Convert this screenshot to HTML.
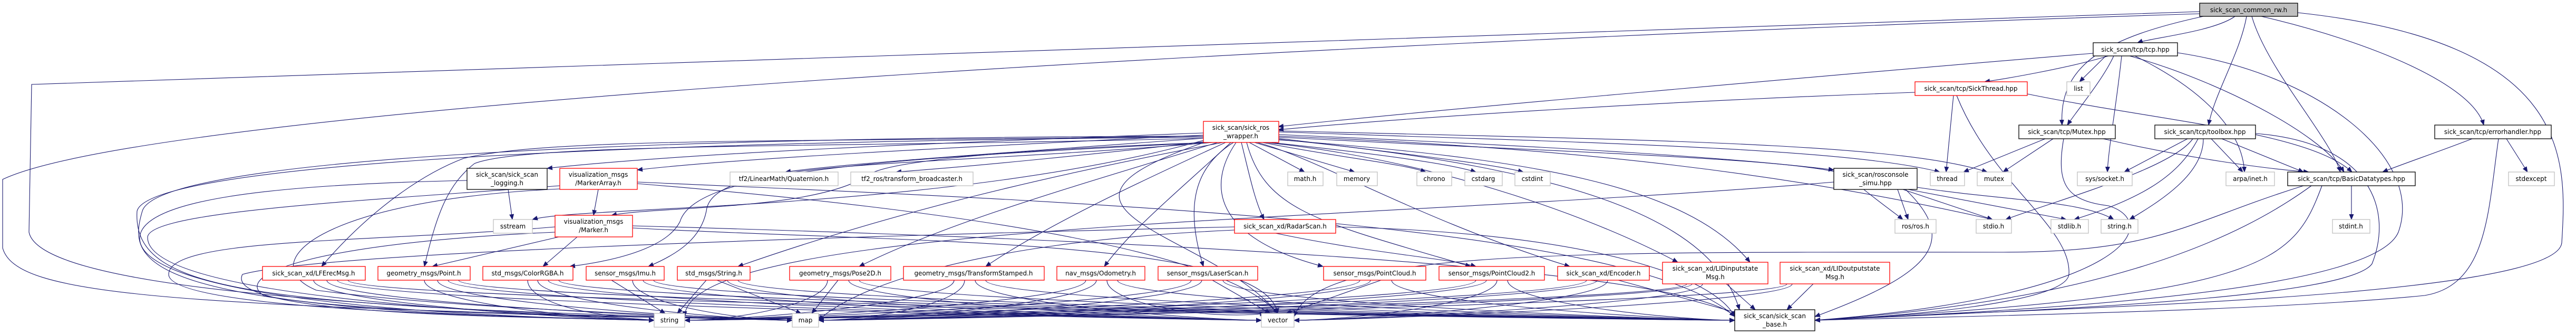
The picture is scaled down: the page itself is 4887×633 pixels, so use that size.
<!DOCTYPE html>
<html><head><meta charset="utf-8"><style>
html,body{margin:0;padding:0;background:#fff}
svg{display:block}
text{font-family:"DejaVu Sans","Liberation Sans",sans-serif;font-size:12px;fill:#000}
.e{fill:none;stroke:#191970;stroke-width:1.1}
.k{fill:#fff;stroke:#000;stroke-width:1.3}
.r{fill:#fff;stroke:#ff0000;stroke-width:1.3}
.g{fill:#fff;stroke:#bfbfbf;stroke-width:1.3}
</style></head><body>
<svg width="4887" height="633" viewBox="0 0 4887 633" xmlns="http://www.w3.org/2000/svg">
<defs><marker id="a" markerWidth="11" markerHeight="9" refX="10" refY="4.5" orient="auto" markerUnits="userSpaceOnUse"><path d="M0,0L11,4.5L0,9z" fill="#191970"/></marker></defs>
<g class="e" marker-end="url(#a)">
<!-- main -->
<path d="M4240,31 C4200,60 4080,72 4055,81"/>
<path d="M4180,31 C4000,70 3905,120 3912,237"/>
<path d="M4262,31 C4250,100 4200,180 4190,237"/>
<path d="M4272,31 C4300,130 4420,260 4440,326"/>
<path d="M4290,31 C4500,80 4690,160 4712,237"/>
<path d="M4359,24 C4880,80 4870,300 4860,460 C4850,570 3800,585 3443,607"/>
<path d="M4173,22 C3500,40 2300,80 60,160 L55,440 C80,570 1000,585 1241,607"/>
<path d="M4173,26 C2500,80 300,200 5,340 L5,470 C30,560 300,580 1503,607"/>
<!-- tcp -->
<path d="M3971,101 C3500,140 2700,210 2425,240"/>
<path d="M4000,106 C3920,130 3800,150 3765,155"/>
<path d="M3995,106 L3945,155"/>
<path d="M4010,106 C3990,150 3940,210 3922,237"/>
<path d="M4025,106 C4015,200 4000,280 3998,326"/>
<path d="M4040,106 C4200,150 4400,250 4447,326"/>
<path d="M4050,106 C4200,180 4255,260 4258,326"/>
<path d="M4131,100 C4400,140 4600,300 4550,440 C4500,560 3800,590 3443,607"/>
<!-- SickThread -->
<path d="M3633,175 C3200,190 2700,220 2425,246"/>
<path d="M3706,181 L3692,326"/>
<path d="M3712,181 C3780,350 3930,430 3925,520 C3920,575 3600,600 3443,607"/>
<path d="M3846,178 C4100,230 4380,250 4462,326"/>
<!-- Mutex -->
<path d="M3880,263 L3725,326"/>
<path d="M3895,263 L3800,326"/>
<path d="M3990,263 C4150,300 4300,320 4380,326"/>
<path d="M3915,263 C3900,350 3920,380 4000,390 C4100,420 4050,560 3443,607"/>
<!-- toolbox -->
<path d="M4150,263 L4030,326"/>
<path d="M4160,263 C4120,320 3900,380 3805,416"/>
<path d="M4170,263 C4130,340 4050,380 3935,416"/>
<path d="M4180,263 C4180,330 4100,380 4040,416"/>
<path d="M4195,263 L4255,326"/>
<path d="M4215,263 L4370,326"/>
<path d="M4279,253 C4500,270 4540,400 4500,500 C4450,570 3800,590 3443,607"/>
<!-- errorhandler -->
<path d="M4690,263 C4620,290 4560,310 4520,326"/>
<path d="M4755,263 L4795,326"/>
<path d="M4740,263 C4720,400 4720,540 4600,560 C4300,590 3700,600 3443,607"/>
<!-- Basic -->
<path d="M4461,352 L4461,416"/>
<path d="M4385,352 C4250,450 4000,570 3443,607"/>
<path d="M4405,352 C4350,500 4300,560 3443,607"/>
<path d="M4370,352 C4150,420 4100,478 3800,478 C3000,478 2500,470 2455,600"/>
<!-- rosconsole -->
<path d="M3600,359 L3620,416"/>
<path d="M3610,359 L3780,416"/>
<path d="M3620,359 L3920,416"/>
<path d="M3637,355 C3800,380 3950,380 4010,416"/>
<path d="M3615,359 C3720,460 3660,520 3443,600"/>
<path d="M3479,345 C2600,420 1300,420 1299,600"/>
<!-- wrapper -->
<path d="M2283,252 C1800,270 1300,290 1038,319"/>
<path d="M2283,256 C1800,280 1400,300 1209,322"/>
<path d="M2300,270 C2000,280 1700,300 1650,330 C1550,400 1250,390 1160,408"/>
<path d="M2283,262 C1900,290 1600,310 1490,326"/>
<path d="M2290,268 C2100,290 1850,315 1700,326"/>
<path d="M2370,270 L2475,326"/>
<path d="M2380,270 L2570,326"/>
<path d="M2395,270 C2550,300 2660,310 2705,326"/>
<path d="M2410,270 C2600,290 2750,310 2800,326"/>
<path d="M2425,262 C2650,290 2830,310 2890,326"/>
<path d="M2425,250 C3000,270 3500,280 3680,326"/>
<path d="M2425,248 C3100,265 3600,270 3770,326"/>
<path d="M2425,255 C3000,280 3300,300 3479,322"/>
<path d="M2425,260 C3000,290 3400,300 3500,330 C3560,380 3590,400 3610,416"/>
<path d="M2355,270 C2370,330 2380,380 2398,416"/>
<path d="M2283,258 C1500,270 1050,260 880,300 C800,330 700,400 610,505"/>
<path d="M2283,262 C1600,280 1000,270 900,310 C850,350 830,400 805,505"/>
<path d="M2290,270 C1700,300 1320,320 1290,420 C1270,460 1200,490 1081,505"/>
<path d="M2300,270 C1700,320 1350,300 1340,400 C1330,450 1290,480 1230,505"/>
<path d="M2320,270 C2000,330 1700,400 1400,505"/>
<path d="M2310,270 C2050,350 1800,420 1630,505"/>
<path d="M2325,270 C2150,350 1980,430 1870,505"/>
<path d="M2335,270 C2250,350 2150,430 2095,505"/>
<path d="M2340,270 C2260,320 2250,400 2283,505"/>
<path d="M2345,270 C2290,350 2300,450 2510,505"/>
<path d="M2365,270 C2400,400 2500,420 2790,505"/>
<path d="M2385,270 C2500,300 2700,420 2978,505"/>
<path d="M2400,270 C2700,300 3000,400 3183,497"/>
<path d="M2425,265 C2900,300 3200,350 3320,497"/>
<path d="M2290,268 C1900,400 2300,440 2424,594"/>
<path d="M2283,258 C1200,260 300,300 270,400 C240,500 260,590 1241,607"/>
<path d="M2283,260 C1000,270 280,320 260,400 C250,560 500,580 1503,607"/>
<path d="M2425,264 C3000,320 3250,420 3300,587"/>
<path d="M2283,266 C1800,400 1100,390 1010,416"/>
<path d="M2425,258 C3000,280 3400,330 3780,416"/>
<!-- MarkerArray -->
<path d="M1135,359 L1126,408"/>
<path d="M1062,352 C700,380 280,400 280,450 C280,560 900,590 1241,607"/>
<path d="M1062,358 C600,380 480,500 600,550 C900,590 1400,600 1503,607"/>
<path d="M1209,348 C1600,380 2300,450 2424,594"/>
<path d="M1209,345 C2000,380 3100,420 3291,600"/>
<!-- logging -->
<path d="M964,359 L972,416"/>
<path d="M886,342 C500,350 270,380 265,450 C260,560 800,600 1241,607"/>
<!-- Marker -->
<path d="M1060,449 L820,505"/>
<path d="M1095,449 L1030,505"/>
<path d="M1053,430 C700,460 320,450 320,520 C320,590 1000,600 1241,607"/>
<path d="M1053,440 C600,460 440,520 500,560 C700,600 1300,600 1503,607"/>
<path d="M1200,432 C1700,460 2400,450 2424,594"/>
<path d="M1200,428 C2000,450 3200,500 3291,600"/>
<!-- RadarScan -->
<path d="M2420,442 C2600,480 2750,490 2800,505"/>
<path d="M2342,430 C1500,450 600,480 460,520 C420,600 1000,600 1241,607"/>
<path d="M2342,436 C1800,460 1600,560 1553,607"/>
<path d="M2534,430 C3000,440 3250,520 3291,600"/>
<!-- row6 to string/map/vector/base -->
<path d="M595,531 C595,575 1141,607 1241,607"/><path d="M620,531 C620,575 1403,607 1503,607"/><path d="M640,531 C640,575 2293,607 2393,607"/><path d="M660,531 C660,575 3191,607 3291,607"/>
<path d="M805,531 C805,575 1141,607 1241,607"/><path d="M830,531 C830,575 1403,607 1503,607"/><path d="M850,531 C850,575 2293,607 2393,607"/><path d="M870,531 C870,575 3191,607 3291,607"/>
<path d="M1001,531 C1001,575 1141,607 1250,600"/><path d="M1020,531 C1020,575 1403,607 1503,607"/><path d="M1040,531 C1040,575 2293,607 2393,607"/><path d="M1060,531 C1060,575 3191,607 3291,607"/>
<path d="M1160,531 L1262,594"/><path d="M1200,531 C1200,575 1403,607 1503,607"/><path d="M1220,531 C1220,575 2293,607 2393,607"/><path d="M1240,531 C1240,575 3191,607 3291,607"/>
<path d="M1340,531 L1285,594"/><path d="M1360,531 L1520,594"/><path d="M1380,531 C1380,575 2293,607 2393,607"/><path d="M1400,531 C1400,575 3191,607 3291,607"/>
<path d="M1570,531 C1570,575 1399,607 1299,607"/><path d="M1590,531 L1540,594"/><path d="M1610,531 C1610,575 2293,607 2393,607"/><path d="M1630,531 C1630,575 3191,607 3291,607"/>
<path d="M1810,531 C1810,575 1399,607 1299,607"/><path d="M1830,531 C1830,575 1653,607 1553,607"/><path d="M1850,531 C1850,575 2293,607 2393,607"/><path d="M1870,531 C1870,575 3191,607 3291,607"/>
<path d="M2060,531 C2060,575 1399,607 1299,607"/><path d="M2080,531 C2080,575 1653,607 1553,607"/><path d="M2100,531 C2100,575 2293,607 2400,594"/><path d="M2120,531 C2120,575 3191,607 3291,607"/>
<path d="M2260,531 C2260,575 1399,607 1299,607"/><path d="M2280,531 C2280,575 1653,607 1553,607"/><path d="M2300,531 L2410,594"/><path d="M2320,531 C2320,575 3191,607 3291,607"/>
<path d="M2580,531 C2580,575 1399,607 1299,607"/><path d="M2600,531 C2600,575 1653,607 1553,607"/><path d="M2620,531 L2440,594"/><path d="M2640,531 C2640,575 3191,607 3291,607"/>
<path d="M2800,531 C2800,575 1399,607 1299,607"/><path d="M2820,531 C2820,575 1653,607 1553,607"/><path d="M2840,531 C2840,575 2555,607 2455,607"/><path d="M2860,531 C2860,575 3191,607 3291,607"/>
<path d="M3010,531 C3010,575 1399,607 1299,607"/><path d="M3030,531 C3030,575 1653,607 1553,607"/><path d="M3050,531 C3050,575 2555,607 2455,607"/><path d="M3070,531 L3300,594"/>
<path d="M3210,538 C3210,575 1653,607 1553,607"/><path d="M3230,538 C3230,575 2555,607 2455,607"/><path d="M3275,538 L3330,587"/><path d="M3200,538 C3200,575 1399,607 1299,607"/>
<path d="M3440,538 L3390,587"/><path d="M3400,538 C3400,575 2555,607 2455,607"/><path d="M3390,538 C3390,575 1653,607 1553,607"/>
</g>
<!-- nodes -->
<g>
<rect class="k" x="4173" y="6" width="186" height="25" style="fill:#bfbfbf"/><text x="4266" y="23" text-anchor="middle">sick_scan_common_rw.h</text>
<rect class="k" x="3971" y="81" width="160" height="25"/><text x="4051" y="98" text-anchor="middle">sick_scan/tcp/tcp.hpp</text>
<rect class="r" x="3633" y="155" width="213" height="26"/><text x="3739" y="172" text-anchor="middle">sick_scan/tcp/SickThread.hpp</text>
<rect class="g" x="3921" y="155" width="44" height="26"/><text x="3943" y="172" text-anchor="middle">list</text>
<rect class="r" x="2283" y="230" width="143" height="40"/><text x="2354" y="246" text-anchor="middle">sick_scan/sick_ros</text><text x="2354" y="262" text-anchor="middle">_wrapper.h</text>
<rect class="k" x="3830" y="237" width="183" height="26"/><text x="3921" y="254" text-anchor="middle">sick_scan/tcp/Mutex.hpp</text>
<rect class="k" x="4088" y="237" width="191" height="26"/><text x="4183" y="254" text-anchor="middle">sick_scan/tcp/toolbox.hpp</text>
<rect class="k" x="4619" y="237" width="221" height="26"/><text x="4729" y="254" text-anchor="middle">sick_scan/tcp/errorhandler.hpp</text>
<rect class="k" x="886" y="319" width="152" height="40"/><text x="962" y="335" text-anchor="middle">sick_scan/sick_scan</text><text x="962" y="351" text-anchor="middle">_logging.h</text>
<rect class="r" x="1062" y="319" width="147" height="40"/><text x="1135" y="335" text-anchor="middle">visualization_msgs</text><text x="1135" y="351" text-anchor="middle">/MarkerArray.h</text>
<rect class="g" x="1385" y="326" width="205" height="26"/><text x="1487" y="343" text-anchor="middle">tf2/LinearMath/Quaternion.h</text>
<rect class="g" x="1614" y="326" width="232" height="26"/><text x="1730" y="343" text-anchor="middle">tf2_ros/transform_broadcaster.h</text>
<rect class="g" x="2443" y="326" width="67" height="26"/><text x="2476" y="343" text-anchor="middle">math.h</text>
<rect class="g" x="2536" y="326" width="77" height="26"/><text x="2574" y="343" text-anchor="middle">memory</text>
<rect class="g" x="2688" y="326" width="66" height="26"/><text x="2721" y="343" text-anchor="middle">chrono</text>
<rect class="g" x="2779" y="326" width="71" height="26"/><text x="2814" y="343" text-anchor="middle">cstdarg</text>
<rect class="g" x="2874" y="326" width="67" height="26"/><text x="2907" y="343" text-anchor="middle">cstdint</text>
<rect class="k" x="3479" y="319" width="158" height="40"/><text x="3558" y="335" text-anchor="middle">sick_scan/rosconsole</text><text x="3558" y="351" text-anchor="middle">_simu.hpp</text>
<rect class="g" x="3662" y="326" width="65" height="26"/><text x="3694" y="343" text-anchor="middle">thread</text>
<rect class="g" x="3751" y="326" width="65" height="26"/><text x="3783" y="343" text-anchor="middle">mutex</text>
<rect class="g" x="3941" y="326" width="104" height="26"/><text x="3993" y="343" text-anchor="middle">sys/socket.h</text>
<rect class="g" x="4223" y="326" width="92" height="26"/><text x="4269" y="343" text-anchor="middle">arpa/inet.h</text>
<rect class="k" x="4340" y="326" width="242" height="26"/><text x="4461" y="343" text-anchor="middle">sick_scan/tcp/BasicDatatypes.hpp</text>
<rect class="g" x="4759" y="326" width="87" height="26"/><text x="4802" y="343" text-anchor="middle">stdexcept</text>
<rect class="g" x="936" y="416" width="74" height="26"/><text x="973" y="433" text-anchor="middle">sstream</text>
<rect class="r" x="1053" y="408" width="147" height="41"/><text x="1126" y="424" text-anchor="middle">visualization_msgs</text><text x="1126" y="440" text-anchor="middle">/Marker.h</text>
<rect class="r" x="2342" y="416" width="192" height="26"/><text x="2438" y="433" text-anchor="middle">sick_scan_xd/RadarScan.h</text>
<rect class="g" x="3595" y="416" width="78" height="26"/><text x="3634" y="433" text-anchor="middle">ros/ros.h</text>
<rect class="g" x="3749" y="416" width="67" height="26"/><text x="3782" y="433" text-anchor="middle">stdio.h</text>
<rect class="g" x="3891" y="416" width="71" height="26"/><text x="3926" y="433" text-anchor="middle">stdlib.h</text>
<rect class="g" x="3986" y="416" width="70" height="26"/><text x="4021" y="433" text-anchor="middle">string.h</text>
<rect class="g" x="4425" y="416" width="71" height="26"/><text x="4460" y="433" text-anchor="middle">stdint.h</text>
<rect class="r" x="498" y="505" width="195" height="26"/><text x="595" y="522" text-anchor="middle">sick_scan_xd/LFErecMsg.h</text>
<rect class="r" x="717" y="505" width="175" height="26"/><text x="804" y="522" text-anchor="middle">geometry_msgs/Point.h</text>
<rect class="r" x="916" y="505" width="171" height="26"/><text x="1001" y="522" text-anchor="middle">std_msgs/ColorRGBA.h</text>
<rect class="r" x="1112" y="505" width="148" height="26"/><text x="1186" y="522" text-anchor="middle">sensor_msgs/Imu.h</text>
<rect class="r" x="1285" y="505" width="138" height="26"/><text x="1354" y="522" text-anchor="middle">std_msgs/String.h</text>
<rect class="r" x="1498" y="505" width="192" height="26"/><text x="1594" y="522" text-anchor="middle">geometry_msgs/Pose2D.h</text>
<rect class="r" x="1714" y="505" width="267" height="26"/><text x="1847" y="522" text-anchor="middle">geometry_msgs/TransformStamped.h</text>
<rect class="r" x="2005" y="505" width="167" height="26"/><text x="2088" y="522" text-anchor="middle">nav_msgs/Odometry.h</text>
<rect class="r" x="2197" y="505" width="189" height="26"/><text x="2291" y="522" text-anchor="middle">sensor_msgs/LaserScan.h</text>
<rect class="r" x="2511" y="505" width="194" height="26"/><text x="2608" y="522" text-anchor="middle">sensor_msgs/PointCloud.h</text>
<rect class="r" x="2730" y="505" width="200" height="26"/><text x="2830" y="522" text-anchor="middle">sensor_msgs/PointCloud2.h</text>
<rect class="r" x="2955" y="505" width="174" height="26"/><text x="3042" y="522" text-anchor="middle">sick_scan_xd/Encoder.h</text>
<rect class="r" x="3154" y="497" width="200" height="41"/><text x="3254" y="513" text-anchor="middle">sick_scan_xd/LIDinputstate</text><text x="3254" y="529" text-anchor="middle">Msg.h</text>
<rect class="r" x="3377" y="497" width="208" height="41"/><text x="3481" y="513" text-anchor="middle">sick_scan_xd/LIDoutputstate</text><text x="3481" y="529" text-anchor="middle">Msg.h</text>
<rect class="g" x="1241" y="594" width="58" height="26"/><text x="1270" y="611" text-anchor="middle">string</text>
<rect class="g" x="1503" y="594" width="50" height="26"/><text x="1528" y="611" text-anchor="middle">map</text>
<rect class="g" x="2393" y="594" width="62" height="26"/><text x="2424" y="611" text-anchor="middle">vector</text>
<rect class="k" x="3291" y="587" width="152" height="40"/><text x="3367" y="603" text-anchor="middle">sick_scan/sick_scan</text><text x="3367" y="619" text-anchor="middle">_base.h</text>
</g>
</svg>
</body></html>
